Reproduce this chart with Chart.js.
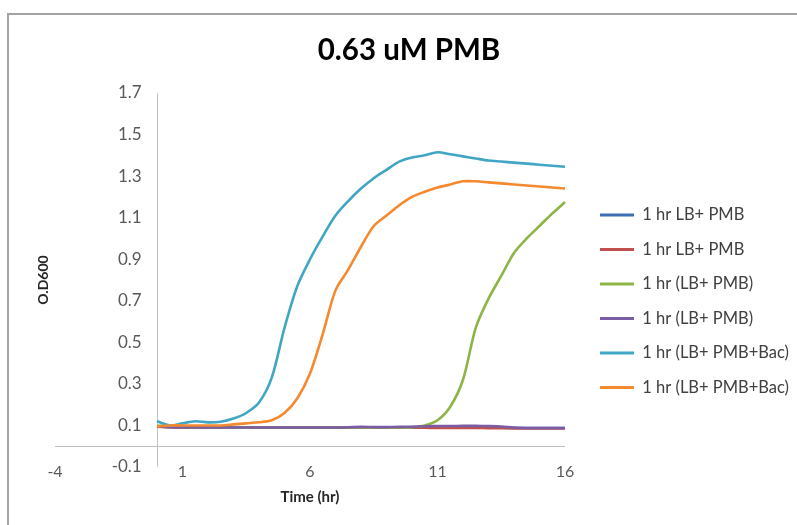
<!DOCTYPE html>
<html>
<head>
<meta charset="utf-8">
<title>0.63 uM PMB</title>
<script src="https://cdn.jsdelivr.net/npm/chart.js@4.4.1/dist/chart.umd.min.js"></script>
<style>
  html, body { margin: 0; padding: 0; background: #fff; }
  #wrap { width: 797px; height: 525px; }
</style>
</head>
<body>
<div id="wrap"><canvas id="growth"></canvas></div>
<script>
// --- data (time in hours, O.D600) ---
const times = [0, 0.5, 1, 1.5, 2, 2.5, 3, 3.5, 4, 4.5, 5, 5.5, 6, 6.5, 7, 7.5, 8,
  8.5, 9, 9.5, 10, 10.5, 11, 11.5, 12, 12.5, 13, 13.5, 14, 14.5, 15, 15.5, 16];

const lbPmbA = [0.095, 0.092, 0.09, 0.09, 0.09, 0.09, 0.09, 0.09, 0.09, 0.09, 0.09, 0.09, 0.09,
  0.09, 0.09, 0.09, 0.09, 0.09, 0.09, 0.09, 0.09, 0.09, 0.091, 0.091, 0.091, 0.09, 0.09,
  0.089, 0.088, 0.088, 0.088, 0.088, 0.088];
const lbPmbB = [0.094, 0.091, 0.09, 0.09, 0.09, 0.09, 0.09, 0.09, 0.09, 0.09, 0.09, 0.09, 0.09,
  0.09, 0.09, 0.09, 0.09, 0.09, 0.09, 0.09, 0.09, 0.089, 0.088, 0.088, 0.088, 0.088, 0.087,
  0.087, 0.086, 0.086, 0.085, 0.085, 0.085];
const lbPmbC = [0.1, 0.095, 0.092, 0.091, 0.09, 0.09, 0.09, 0.09, 0.09, 0.09, 0.09, 0.09, 0.09,
  0.09, 0.09, 0.09, 0.09, 0.09, 0.09, 0.09, 0.092, 0.1, 0.125, 0.19, 0.32, 0.57, 0.71,
  0.82, 0.93, 1.0, 1.06, 1.12, 1.175];
const lbPmbD = [0.095, 0.093, 0.091, 0.091, 0.09, 0.09, 0.09, 0.09, 0.09, 0.09, 0.09, 0.09, 0.09,
  0.09, 0.09, 0.091, 0.093, 0.092, 0.092, 0.093, 0.094, 0.096, 0.097, 0.097, 0.098, 0.098, 0.097,
  0.095, 0.09, 0.088, 0.088, 0.088, 0.088];
const lbPmbBacA = [0.12, 0.1, 0.11, 0.12, 0.115, 0.118, 0.133, 0.16, 0.21, 0.33, 0.57, 0.77, 0.9,
  1.01, 1.11, 1.18, 1.24, 1.29, 1.33, 1.37, 1.39, 1.4, 1.415, 1.405, 1.395, 1.385, 1.375,
  1.37, 1.365, 1.36, 1.355, 1.35, 1.345];
const lbPmbBacB = [0.095, 0.1, 0.1, 0.1, 0.1, 0.1, 0.105, 0.11, 0.115, 0.125, 0.16, 0.23, 0.35,
  0.54, 0.75, 0.85, 0.96, 1.06, 1.11, 1.16, 1.2, 1.225, 1.245, 1.26, 1.275, 1.275, 1.27,
  1.265, 1.26, 1.255, 1.25, 1.245, 1.24];

const seriesLabels = ["1 hr LB+ PMB", "1 hr LB+ PMB", "1 hr (LB+ PMB)", "1 hr (LB+ PMB)",
  "1 hr (LB+ PMB+Bac)", "1 hr (LB+ PMB+Bac)"];
const seriesValues = [lbPmbA, lbPmbB, lbPmbC, lbPmbD, lbPmbBacA, lbPmbBacB];
const seriesColors = ["#3d6eb5", "#c0504d", "#8db546", "#7b5ca6", "#40a6c4", "#f5892f"];

const xTicks = [-4, 1, 6, 11, 16];
const yTicks = [-0.1, 0.1, 0.3, 0.5, 0.7, 0.9, 1.1, 1.3, 1.5, 1.7];

const FONT = "Lato, 'Liberation Sans', sans-serif";

/**
 * frame, crossing axis lines and titles (Excel style)
 */
const decor = {
    id: "decor",
    beforeDraw(chart) {
        const { ctx } = chart;
        ctx.save();
        ctx.strokeStyle = "#a3a3a3";
        ctx.lineWidth = 2;
        ctx.strokeRect(8, 14, 900, 600);
        ctx.restore();
    },
    beforeDatasetsDraw(chart) {
        const { ctx, scales, chartArea } = chart;
        const y0 = Math.round(scales.y.getPixelForValue(0)) + 0.5;
        const x0 = Math.round(scales.x.getPixelForValue(0)) + 0.5;
        ctx.save();
        ctx.strokeStyle = "#bfbfbf";
        ctx.lineWidth = 1;
        ctx.beginPath();
        ctx.moveTo(scales.x.getPixelForValue(xTicks[0]), y0);
        ctx.lineTo(scales.x.getPixelForValue(xTicks[xTicks.length - 1]), y0);
        ctx.moveTo(x0, chartArea.top);
        ctx.lineTo(x0, chartArea.bottom);
        ctx.stroke();
        ctx.restore();
    },
    afterDraw(chart) {
        const { ctx, chartArea, scales } = chart;
        ctx.save();
        ctx.fillStyle = "#000";
        ctx.textAlign = "center";
        ctx.textBaseline = "middle";
        ctx.font = `bold 29.5px ${FONT}`;
        ctx.fillText("0.63 uM PMB", 409, 50);

        ctx.fillStyle = "#262626";
        ctx.font = `bold 15px ${FONT}`;
        const xMid = (scales.x.getPixelForValue(xTicks[0]) +
            scales.x.getPixelForValue(xTicks[xTicks.length - 1])) / 2;
        ctx.fillText("Time (hr)", xMid, 497);

        ctx.translate(43, (chartArea.top + chartArea.bottom) / 2);
        ctx.rotate(-Math.PI / 2);
        ctx.font = `bold 14px ${FONT}`;
        ctx.fillText("O.D600", 0, 0);
        ctx.restore();
    },
};

(function () {
    const canvas = document.getElementById("growth");
    if (!canvas) return;

    const datasets = seriesValues.map((vals, i) => ({
        label: seriesLabels[i],
        data: times.map((t, j) => ({ x: t, y: vals[j] })),
        borderColor: seriesColors[i],
        backgroundColor: seriesColors[i],
        borderWidth: 2.6,
        pointRadius: 0,
        tension: 0.3,
        order: seriesValues.length - i, // later series on top, like Excel
    }));

    new Chart(canvas, {
        type: "line",
        data: { datasets },
        options: {
            responsive: true,
            maintainAspectRatio: false,
            animation: false,
            layout: { padding: { left: 55, top: 93, bottom: 58, right: 0 } },
            scales: {
                x: {
                    type: "linear",
                    position: { y: 0 },
                    min: -4,
                    max: 16.667,
                    afterBuildTicks: (s) => {
                        s.ticks = xTicks.map((v) => ({ value: v }));
                    },
                    grid: { display: false, drawTicks: false },
                    border: { display: false },
                    ticks: {
                        padding: 16,
                        color: "#595959",
                        font: { family: FONT, size: 16 },
                    },
                },
                y: {
                    type: "linear",
                    // labels sit just left of the x=0 axis line
                    position: { x: -0.6 },
                    min: -0.1,
                    max: 1.7,
                    afterBuildTicks: (s) => {
                        s.ticks = yTicks.map((v) => ({ value: v }));
                    },
                    grid: { display: false, drawTicks: false },
                    border: { display: false },
                    ticks: {
                        padding: 0,
                        color: "#595959",
                        font: { family: FONT, size: 17 },
                        callback: (v) => v.toFixed(1),
                    },
                },
            },
            plugins: {
                title: { display: false },
                tooltip: { enabled: false },
                legend: {
                    position: "right",
                    maxWidth: 215,
                    title: { display: true, text: "", padding: { top: 0, bottom: 28 } },
                    labels: {
                        boxWidth: 34,
                        boxHeight: 3,
                        padding: 18,
                        color: "#404040",
                        font: { family: FONT, size: 16.5 },
                        sort: (a, b) => a.datasetIndex - b.datasetIndex,
                        generateLabels: (chart) =>
                            Chart.defaults.plugins.legend.labels
                                .generateLabels(chart)
                                .map((it) => ({ ...it, lineWidth: 0 })),
                    },
                },
            },
        },
        plugins: [decor],
    });
})();
</script>
</body>
</html>
